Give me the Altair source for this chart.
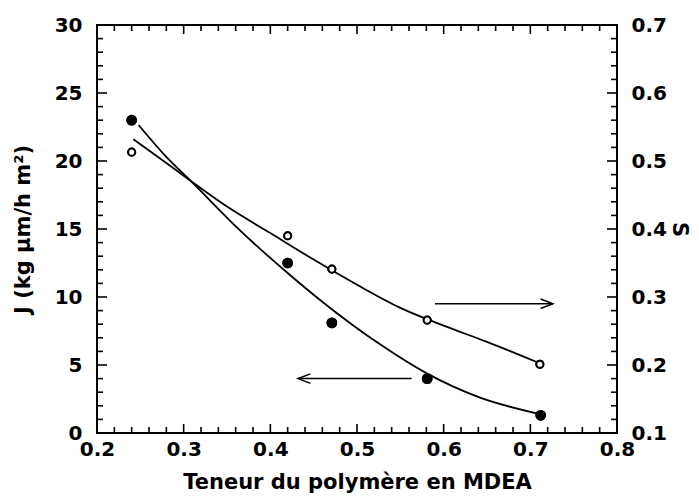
import altair as alt
import pandas as pd

# ---- data ----
x_j = [0.240, 0.420, 0.471, 0.581, 0.712]
j_vals = [23.0, 12.5, 8.1, 4.0, 1.3]
x_s = [0.240, 0.420, 0.471, 0.581, 0.711]
s_vals = [0.513, 0.390, 0.341, 0.266, 0.201]

j_curve_x = [0.248, 0.280, 0.309, 0.365, 0.423, 0.457, 0.527, 0.580, 0.642, 0.707]
j_curve_y = [22.65, 20.3, 18.48, 14.9, 11.6, 9.8, 6.5, 4.4, 2.6, 1.45]
s_curve_x = [0.242, 0.280, 0.309, 0.350, 0.400, 0.450, 0.500, 0.550, 0.600, 0.650, 0.710]
s_curve_y = [0.532, 0.497, 0.470, 0.433, 0.394, 0.355, 0.318, 0.284, 0.258, 0.234, 0.203]

# arrows: (tail x, tip x, level)
arrow_j = {"x1": [0.563], "x2": [0.432], "J": [4.0]}
arrow_s = {"x1": [0.590], "x2": [0.726], "S": [0.29]}

# tick values
x_labels = [0.2, 0.3, 0.4, 0.5, 0.6, 0.7, 0.8]
x_major = [0.3, 0.4, 0.5, 0.6, 0.7]
x_minor = [0.22, 0.24, 0.26, 0.28, 0.32, 0.34, 0.36, 0.38, 0.42, 0.44, 0.46, 0.48,
           0.52, 0.54, 0.56, 0.58, 0.62, 0.64, 0.66, 0.68, 0.72, 0.74, 0.76, 0.78]
j_labels = [0, 5, 10, 15, 20, 25, 30]
j_major = [5, 10, 15, 20, 25]
j_minor = [1, 2, 3, 4, 6, 7, 8, 9, 11, 12, 13, 14, 16, 17, 18, 19, 21, 22, 23, 24, 26, 27, 28, 29]
s_labels = [0.1, 0.2, 0.3, 0.4, 0.5, 0.6, 0.7]
s_major = [0.2, 0.3, 0.4, 0.5, 0.6]
s_minor = [0.12, 0.14, 0.16, 0.18, 0.22, 0.24, 0.26, 0.28, 0.32, 0.34, 0.36, 0.38,
           0.42, 0.44, 0.46, 0.48, 0.52, 0.54, 0.56, 0.58, 0.62, 0.64, 0.66, 0.68]

W, H = 520, 408
FONT = "DejaVu Sans"

XS = alt.Scale(domain=[0.2, 0.8], nice=False, zero=False)
YJ = alt.Scale(domain=[0, 30], nice=False, zero=False)
YS = alt.Scale(domain=[0.1, 0.7], nice=False, zero=False)

df_j = pd.DataFrame({"x": x_j, "J": j_vals})
df_s = pd.DataFrame({"x": x_s, "S": s_vals})
df_jc = pd.DataFrame({"x": j_curve_x, "J": j_curve_y})
df_sc = pd.DataFrame({"x": s_curve_x, "S": s_curve_y})

LAB = dict(labelFont=FONT, labelFontWeight="bold", labelFontSize=20, labelColor="black",
           titleFont=FONT, titleFontWeight="bold", titleFontSize=21, titleColor="black",
           ticks=False, domain=False, grid=False, labelFlush=False, labelOverlap=False)

xax = alt.Axis(values=x_labels, format=".1f", title="Teneur du polymère en MDEA", orient="bottom",
               labelPadding=6, titlePadding=12, **LAB)
jax = alt.Axis(values=j_labels, format="d", title="J (kg µm/h m²)", orient="left",
               labelPadding=15, titlePadding=21, **LAB)
sax = alt.Axis(values=s_labels, format=".1f", title="S", orient="right",
               labelPadding=14, titlePadding=2, **LAB)

TK = dict(color="black", strokeWidth=1.6)

# points (carry the axes)
j_pts = alt.Chart(df_j).mark_point(shape="circle", filled=True, size=115, color="black", opacity=1).encode(
    x=alt.X("x:Q", scale=XS, axis=xax), y=alt.Y("J:Q", scale=YJ, axis=jax))
s_pts = alt.Chart(df_s).mark_point(shape="circle", filled=False, size=50, strokeWidth=2,
                                   color="black", fill="white", fillOpacity=1, opacity=1).encode(
    x=alt.X("x:Q", scale=XS, axis=None), y=alt.Y("S:Q", scale=YS, axis=sax))

j_line = alt.Chart(df_jc).mark_line(color="black", strokeWidth=1.8, interpolate="monotone").encode(
    x=alt.X("x:Q", scale=XS, axis=None), y=alt.Y("J:Q", scale=YJ, axis=None))
s_line = alt.Chart(df_sc).mark_line(color="black", strokeWidth=1.8, interpolate="monotone").encode(
    x=alt.X("x:Q", scale=XS, axis=None), y=alt.Y("S:Q", scale=YS, axis=None))

def xticks(vals, length):
    d = pd.DataFrame({"x": vals})
    b = alt.Chart(d).mark_rule(**TK).encode(
        x=alt.X("x:Q", scale=XS, axis=None), y=alt.value(H), y2=alt.value(H - length))
    t = alt.Chart(d).mark_rule(**TK).encode(
        x=alt.X("x:Q", scale=XS, axis=None), y=alt.value(0), y2=alt.value(length))
    return [b, t]

def jticks(vals, length):
    d = pd.DataFrame({"J": vals})
    return alt.Chart(d).mark_rule(**TK).encode(
        x=alt.value(0), x2=alt.value(length), y=alt.Y("J:Q", scale=YJ, axis=None))

def sticks(vals, length):
    d = pd.DataFrame({"S": vals})
    return alt.Chart(d).mark_rule(**TK).encode(
        x=alt.value(W), x2=alt.value(W - length), y=alt.Y("S:Q", scale=YS, axis=None))

df_aj = pd.DataFrame(arrow_j)
aj_shaft = alt.Chart(df_aj).mark_rule(color="black", strokeWidth=1.5).encode(
    x=alt.X("x1:Q", scale=XS, axis=None), x2="x2:Q", y=alt.Y("J:Q", scale=YJ, axis=None))
aj_head = alt.Chart(df_aj).mark_point(shape="M2.6,-1L0,0L2.6,1", filled=False, size=90,
                                      strokeWidth=1.5, color="black", opacity=1).encode(
    x=alt.X("x2:Q", scale=XS, axis=None), y=alt.Y("J:Q", scale=YJ, axis=None))

df_as = pd.DataFrame(arrow_s)
as_shaft = alt.Chart(df_as).mark_rule(color="black", strokeWidth=1.5).encode(
    x=alt.X("x1:Q", scale=XS, axis=None), x2="x2:Q", y=alt.Y("S:Q", scale=YS, axis=None))
as_head = alt.Chart(df_as).mark_point(shape="M-2.6,-1L0,0L-2.6,1", filled=False, size=90,
                                      strokeWidth=1.5, color="black", opacity=1).encode(
    x=alt.X("x2:Q", scale=XS, axis=None), y=alt.Y("S:Q", scale=YS, axis=None))

layers = [
    j_pts, s_pts,
    *xticks(x_major, 9), *xticks(x_minor, 6),
    jticks(j_major, 10), jticks(j_minor, 6),
    sticks(s_major, 10), sticks(s_minor, 6),
    j_line, s_line, aj_shaft, aj_head, as_shaft, as_head,
]
# redraw points on top of the curves
layers += [j_pts.encode(x=alt.X("x:Q", scale=XS, axis=None), y=alt.Y("J:Q", scale=YJ, axis=None)),
           s_pts.encode(x=alt.X("x:Q", scale=XS, axis=None), y=alt.Y("S:Q", scale=YS, axis=None))]

chart = alt.layer(*layers).resolve_scale(y="independent").resolve_axis(
    x="independent", y="independent"
).properties(
    width=W, height=H,
    autosize=alt.AutoSizeParams(type="none"),
    padding={"left": 89, "top": 17, "right": 74, "bottom": 62},
    background="white",
).configure_view(
    stroke="black", strokeWidth=2
)

chart.save("out.html", embed_options={"renderer": "svg", "actions": False})
